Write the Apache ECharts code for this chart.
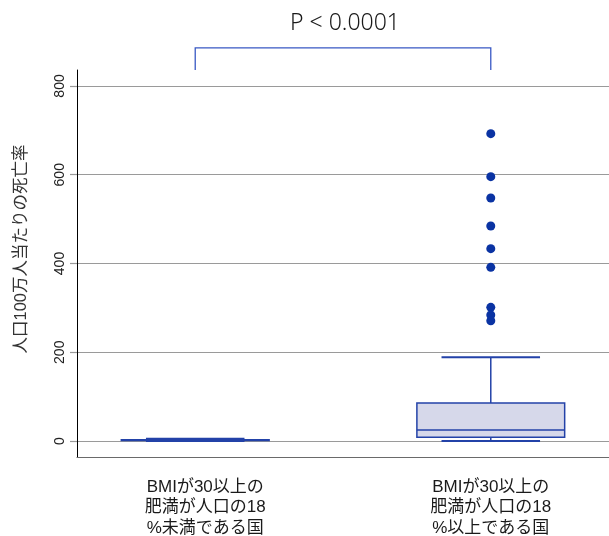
<!DOCTYPE html>
<html>
<head>
<meta charset="utf-8">
<script src="https://cdn.jsdelivr.net/npm/echarts@6/dist/echarts.min.js"></script>
<style>html,body{margin:0;padding:0;background:#fff;}#c{width:609px;height:536px;}</style>
</head>
<body>
<div id="c"></div>
<script>
// ---- data ----
const categories = ['BMIが30以上の\n肥満が人口の18\n%未満である国', 'BMIが30以上の\n肥満が人口の18\n%以上である国'];
const groupPositions = [1, 2];
// [min, Q1, median, Q3, max]
const boxStats = [
  [0, 1, 2, 3, 5],
  [0, 8.3, 24.8, 85.6, 188.6]
];
const outliersGroup2 = [692.5, 595.6, 547.6, 484.5, 433.4, 391.4, 301.2, 284, 271.1];
const yTicks = [0, 200, 400, 600, 800];
const pText = 'P < 0.0001';
const bracketSpan = [1, 2];
const yTitle = '人口100万人当たりの死亡率';

const boxData = boxStats.map((s, i) => [groupPositions[i]].concat(s));
const outlierData = outliersGroup2.map(v => [groupPositions[1], v]);

const BOX_COLOR = '#2342a8';
const FILL = '#d6d8ea';

function renderBox(params, api) {
  const x = api.value(0);
  const mn = api.value(1), q1 = api.value(2), md = api.value(3), q3 = api.value(4), mx = api.value(5);
  const unit = api.size([1, 0])[0];
  const bh = unit * 0.25, ch = unit / 6;
  const pMin = api.coord([x, mn]), pQ1 = api.coord([x, q1]), pMd = api.coord([x, md]),
        pQ3 = api.coord([x, q3]), pMax = api.coord([x, mx]);
  const cx = pMin[0];
  const ls = {stroke: BOX_COLOR, lineWidth: 1.5, fill: null};
  const cs = {stroke: BOX_COLOR, lineWidth: 2, fill: null};
  return {
    type: 'group',
    children: [
      {type: 'line', shape: {x1: cx, y1: pQ3[1], x2: cx, y2: pMax[1]}, style: ls},
      {type: 'line', shape: {x1: cx, y1: pQ1[1], x2: cx, y2: pMin[1]}, style: ls},
      {type: 'rect', shape: {x: cx - bh, y: pQ3[1], width: 2 * bh, height: Math.max(pQ1[1] - pQ3[1], 0.5)},
        style: {fill: FILL, stroke: BOX_COLOR, lineWidth: 1.5}},
      {type: 'line', shape: {x1: cx - bh, y1: pMd[1], x2: cx + bh, y2: pMd[1]}, style: ls},
      {type: 'line', shape: {x1: cx - ch, y1: pMax[1], x2: cx + ch, y2: pMax[1]}, style: cs},
      {type: 'line', shape: {x1: cx - ch, y1: pMin[1], x2: cx + ch, y2: pMin[1]}, style: cs}
    ]
  };
}

function renderBracket(params, api) {
  const a = api.coord([api.value(0), 836]);
  const b = api.coord([api.value(1), 886]);
  const c = api.coord([api.value(1), 836]);
  return {
    type: 'polyline',
    shape: {points: [[a[0], a[1]], [a[0], b[1]], [b[0], b[1]], [c[0], c[1]]]},
    style: {stroke: '#3858c4', lineWidth: 1.3, fill: null}
  };
}

function wrapRich(text, key) {
  return text.split('\n').map(l => '{' + key + '|' + l + '}').join('\n');
}

const labelFont = "'Liberation Sans', 'Noto Sans CJK JP', sans-serif";
const chart = echarts.init(document.getElementById('c'), null, {renderer: 'canvas'});
chart.setOption({
  animation: false,
  backgroundColor: '#fff',
  title: {
    text: pText,
    left: 285, top: 7,
    textStyle: {fontFamily: "'Noto Sans', sans-serif", fontSize: 23, fontWeight: 300, color: '#1a1a1a'}
  },
  grid: {left: 77, right: 0, top: 70, bottom: 79, containLabel: false, outerBoundsMode: 'none'},
  xAxis: {
    type: 'value', min: 0.6, max: 2.4, interval: 0.2,
    axisLine: {show: true, onZero: false, lineStyle: {color: '#6a6a6a', width: 1.2}},
    axisTick: {show: false},
    splitLine: {show: false},
    axisLabel: {
      margin: 20,
      showMinLabel: false, showMaxLabel: false,
      formatter: function (v) {
        for (let i = 0; i < groupPositions.length; i++) {
          if (Math.abs(v - groupPositions[i]) < 1e-6) return wrapRich(categories[i], i === 0 ? 'a' : 'b');
        }
        return '';
      },
      fontFamily: labelFont, fontSize: 17, lineHeight: 20.5, color: '#1a1a1a',
      rich: {
        a: {fontFamily: labelFont, fontSize: 17, lineHeight: 20.5, color: '#1a1a1a', padding: [0, 0, 0, 20]},
        b: {fontFamily: labelFont, fontSize: 17, lineHeight: 20.5, color: '#1a1a1a'}
      }
    }
  },
  yAxis: {
    type: 'value', min: -36, max: 836,
    name: yTitle, nameLocation: 'middle', nameRotate: 90, nameGap: 47,
    nameTextStyle: {fontFamily: labelFont, fontSize: 16.5, color: '#333', padding: [0, 0, 0, 29]},
    axisLine: {show: true, lineStyle: {color: '#000', width: 1}},
    axisTick: {show: true, length: 7, customValues: yTicks, lineStyle: {color: '#999', width: 1.2}},
    splitLine: {show: true, lineStyle: {color: '#9a9a9a', width: 1.2}},
    axisLabel: {
      customValues: yTicks, rotate: 90, margin: 10,
      fontFamily: "'Liberation Sans', Arial, sans-serif", fontSize: 14, color: '#222'
    }
  },
  series: [
    {
      type: 'custom', name: 'box', renderItem: renderBox,
      encode: {x: 0, y: [1, 2, 3, 4, 5]},
      data: boxData, z: 3
    },
    {
      type: 'scatter', name: 'outliers', data: outlierData,
      symbol: 'circle', symbolSize: 9,
      itemStyle: {color: '#0a33a3', opacity: 1}, z: 4
    },
    {
      type: 'custom', name: 'bracket', renderItem: renderBracket, clip: false,
      encode: {x: [0, 1]},
      data: [bracketSpan], z: 5, silent: true
    }
  ]
});
</script>
</body>
</html>
